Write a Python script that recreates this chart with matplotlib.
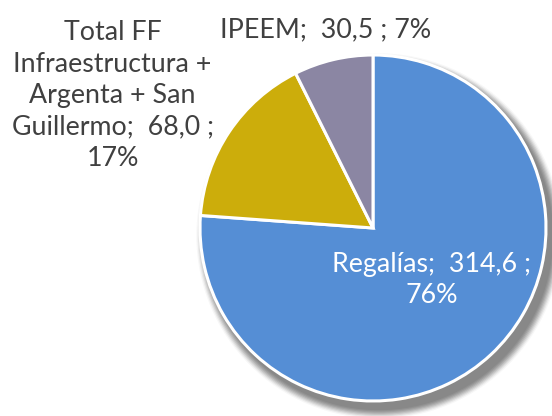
import matplotlib
matplotlib.use("Agg")
import matplotlib.pyplot as plt
from matplotlib.patches import Circle
import numpy as np

categories = ["Regalías", "Total FF\nInfraestructura +\nArgenta + San\nGuillermo", "IPEEM"]
values = [314.6, 68.0, 30.5]
value_labels = ["314,6", "68,0", "30,5"]
pct_labels = ["76%", "17%", "7%"]
colors = ["#558ED5", "#CCAD0B", "#8B86A3"]

plt.rcParams['font.family'] = ['Lato', 'DejaVu Sans']

W, H = 552, 416
fig = plt.figure(figsize=(W / 100, H / 100), dpi=100)
ax = fig.add_axes([0, 0, 1, 1])
cx, cy, r = 373, 228, 173

# soft shadow
off = np.array([6, -8]) / r
for i, a in enumerate(np.linspace(0.06, 0.4, 8)):
    rad = 1.0 + (8 - i) * 1.2 / r
    ax.add_patch(Circle((off[0], off[1]), rad, color="#7a7a7a", alpha=a, lw=0, zorder=1))

wedges, _ = ax.pie(values, colors=colors, startangle=90, counterclock=False,
                   radius=1.0, center=(0, 0),
                   wedgeprops=dict(edgecolor="white", linewidth=2.2))
for w in wedges:
    w.set_zorder(3)

ax.set_aspect('auto')
ax.set_xlim(-cx / r, (W - cx) / r)
ax.set_ylim(-(H - cy) / r, cy / r)
ax.axis('off')

fs = 19.3
pos = [(0.341, -0.30), (-1.505, 0.765), (-0.272, 1.145)]
tcolors = ["white", "#404040", "#404040"]
texts = [
    f"{categories[0]};  {value_labels[0]} ;\n{pct_labels[0]}",
    f"{categories[1]};  {value_labels[1]} ;\n{pct_labels[1]}",
    f"{categories[2]};  {value_labels[2]} ; {pct_labels[2]}",
]
for (x, y), t, c in zip(pos, texts, tcolors):
    ax.text(x, y, t, ha="center", va="center", fontsize=fs, color=c,
            linespacing=1.32, zorder=5)

fig.savefig("out.png", dpi=100, facecolor="white")
